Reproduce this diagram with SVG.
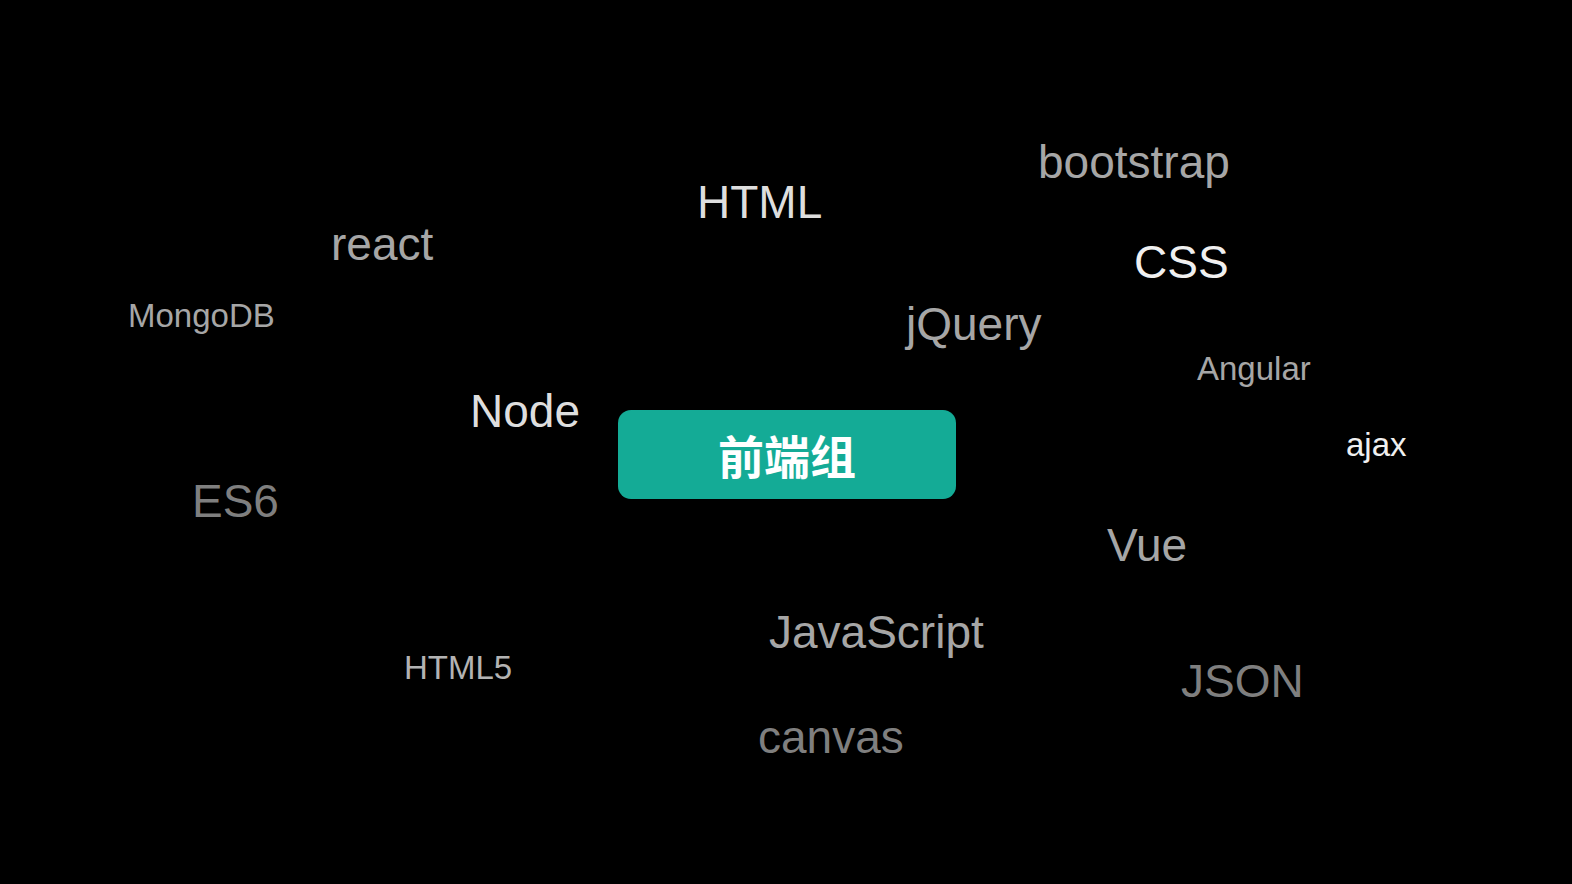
<svg xmlns="http://www.w3.org/2000/svg" width="1572" height="884" viewBox="0 0 1572 884">
<style>
text{font-family:"Liberation Sans",Arial,sans-serif}
.b{font-size:46px}
.s{font-size:33px}
.w{fill:#f0f0f0}
.l{fill:#dedede}
.g{fill:#a6a6a6}
.m{fill:#b3b3b3}
.d{fill:#7f7f7f}
</style>
<rect width="1572" height="884" fill="#000"/>
<g id="center">
<rect x="618" y="410" width="338" height="89" rx="13" fill="#14ab96"/>
<text x="787" y="474" text-anchor="middle" style="font-family:'Noto Sans CJK SC',sans-serif" font-size="46" font-weight="bold" fill="#fff">前端组</text>
</g>
<g id="connectors"></g>
<g id="bootstrap"><text class="b g" x="1038" y="178">bootstrap</text></g>
<g id="html"><text class="b l" x="697" y="218">HTML</text></g>
<g id="react"><text class="b g" x="331" y="260">react</text></g>
<g id="css"><text class="b w" x="1134" y="278">CSS</text></g>
<g id="mongodb"><text class="s g" x="128" y="327">MongoDB</text></g>
<g id="jquery"><text class="b g" x="906" y="340">jQuery</text></g>
<g id="angular"><text class="s g" x="1197" y="380">Angular</text></g>
<g id="node"><text class="b l" x="470" y="427">Node</text></g>
<g id="ajax"><text class="s w" x="1346" y="456">ajax</text></g>
<g id="es6"><text class="b d" x="192" y="517">ES6</text></g>
<g id="vue"><text class="b g" x="1107" y="561">Vue</text></g>
<g id="javascript"><text class="b g" x="769" y="648">JavaScript</text></g>
<g id="html5"><text class="s m" x="404" y="679">HTML5</text></g>
<g id="json"><text class="b d" x="1181" y="697">JSON</text></g>
<g id="canvas"><text class="b d" x="758" y="753">canvas</text></g>
</svg>
